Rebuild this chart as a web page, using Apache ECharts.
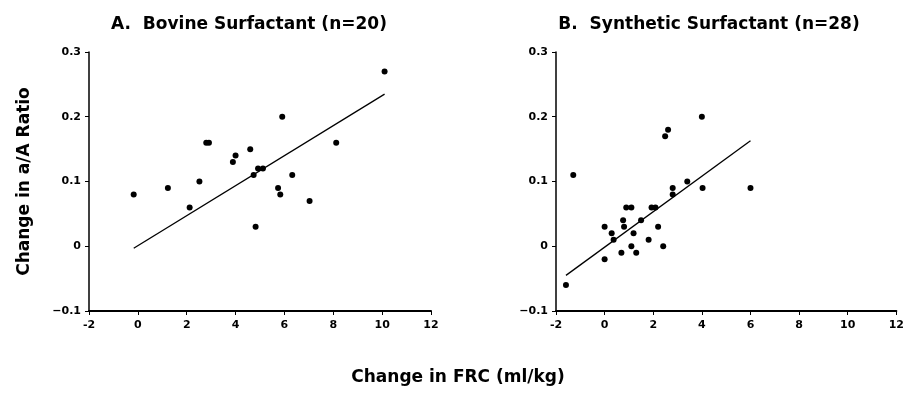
<!DOCTYPE html>
<html><head><meta charset="utf-8">
<script src="https://cdn.jsdelivr.net/npm/echarts@6/dist/echarts.min.js"></script>
<style>html,body{margin:0;padding:0;background:#fff}#c{width:907px;height:400px}</style>
</head><body><div id="c"></div>
<script>
const titleA = 'A.  Bovine Surfactant (n=20)';
const titleB = 'B.  Synthetic Surfactant (n=28)';
const yAxisName = 'Change in a/A Ratio';
const xAxisName = 'Change in FRC (ml/kg)';

const bovineX = [-0.17,1.23,2.12,2.52,2.80,2.91,3.89,4.0,4.60,4.74,4.82,4.92,5.12,5.74,5.83,5.91,6.32,7.03,8.12,10.1];
const bovineY = [0.08,0.09,0.06,0.10,0.16,0.16,0.13,0.14,0.15,0.11,0.03,0.12,0.12,0.09,0.08,0.20,0.11,0.07,0.16,0.27];
const bovineLineX = [-0.17, 10.1];
const bovineLineY = [-0.003, 0.235];

const synthX = [-1.59,-1.29,0,0,0.29,0.37,0.69,0.76,0.80,0.89,1.1,1.1,1.19,1.30,1.5,1.81,1.93,2.09,2.2,2.41,2.49,2.61,2.8,2.8,3.4,4.0,4.03,6.0];
const synthY = [-0.06,0.11,0.03,-0.02,0.02,0.01,-0.01,0.04,0.03,0.06,0.06,0,0.02,-0.01,0.04,0.01,0.06,0.06,0.03,0,0.17,0.18,0.09,0.08,0.10,0.20,0.09,0.09];
const synthLineX = [-1.59, 6.0];
const synthLineY = [-0.045, 0.163];

const zip = (a, b) => a.map((v, i) => [v, b[i]]);
const FONT = 'DejaVu Sans';

function xAx(i){
  return {type:'value', gridIndex:i, min:-2, max:12, interval:2,
    axisLine:{show:true, onZero:false, lineStyle:{color:'#000', width:2}},
    axisTick:{show:true, length:4, lineStyle:{color:'#000'}},
    axisLabel:{color:'#000', fontFamily:FONT, fontWeight:'bold', fontSize:11, margin:9},
    splitLine:{show:false}};
}
function yAx(i, withName){
  const a = {type:'value', gridIndex:i, min:-0.1, max:0.3, interval:0.1,
    axisLine:{show:true, onZero:false, lineStyle:{color:'#000', width:1.5}},
    axisTick:{show:true, length:4, lineStyle:{color:'#000'}},
    axisLabel:{color:'#000', fontFamily:FONT, fontWeight:'bold', fontSize:11, margin:8,
      formatter: v => { const r = Math.round(v*10)/10; return r === 0 ? '0' : r.toFixed(1).replace('-', '\u2212'); }},
    splitLine:{show:false}};
  if (withName) Object.assign(a, {name: yAxisName, nameLocation:'middle', nameGap:56,
    nameTextStyle:{color:'#000', fontFamily:FONT, fontWeight:'bold', fontSize:17}});
  return a;
}

const chart = echarts.init(document.getElementById('c'), null, {renderer:'canvas'});
chart.setOption({
  animation:false,
  backgroundColor:'#fff',
  title:[
    {text:titleA, left:244, top:11, textAlign:'center', textStyle:{color:'#000', fontFamily:FONT, fontWeight:'bold', fontSize:17}},
    {text:titleB, left:704, top:11, textAlign:'center', textStyle:{color:'#000', fontFamily:FONT, fontWeight:'bold', fontSize:17}},
    {text:xAxisName, left:453, top:364, textAlign:'center', textStyle:{color:'#000', fontFamily:FONT, fontWeight:'bold', fontSize:17}}
  ],
  grid:[
    {left:89, top:52, width:342, height:259},
    {left:556, top:52, width:343, height:259}
  ],
  xAxis:[xAx(0), xAx(1)],
  yAxis:[yAx(0, true), yAx(1, false)],
  series:[
    {type:'scatter', xAxisIndex:0, yAxisIndex:0, data:zip(bovineX, bovineY), symbolSize:6, itemStyle:{color:'#000', opacity:1}},
    {type:'line', xAxisIndex:0, yAxisIndex:0, data:zip(bovineLineX, bovineLineY), showSymbol:false, symbol:'none', lineStyle:{color:'#000', width:1.3}},
    {type:'scatter', xAxisIndex:1, yAxisIndex:1, data:zip(synthX, synthY), symbolSize:6, itemStyle:{color:'#000', opacity:1}},
    {type:'line', xAxisIndex:1, yAxisIndex:1, data:zip(synthLineX, synthLineY), showSymbol:false, symbol:'none', lineStyle:{color:'#000', width:1.3}}
  ]
});
</script></body></html>
